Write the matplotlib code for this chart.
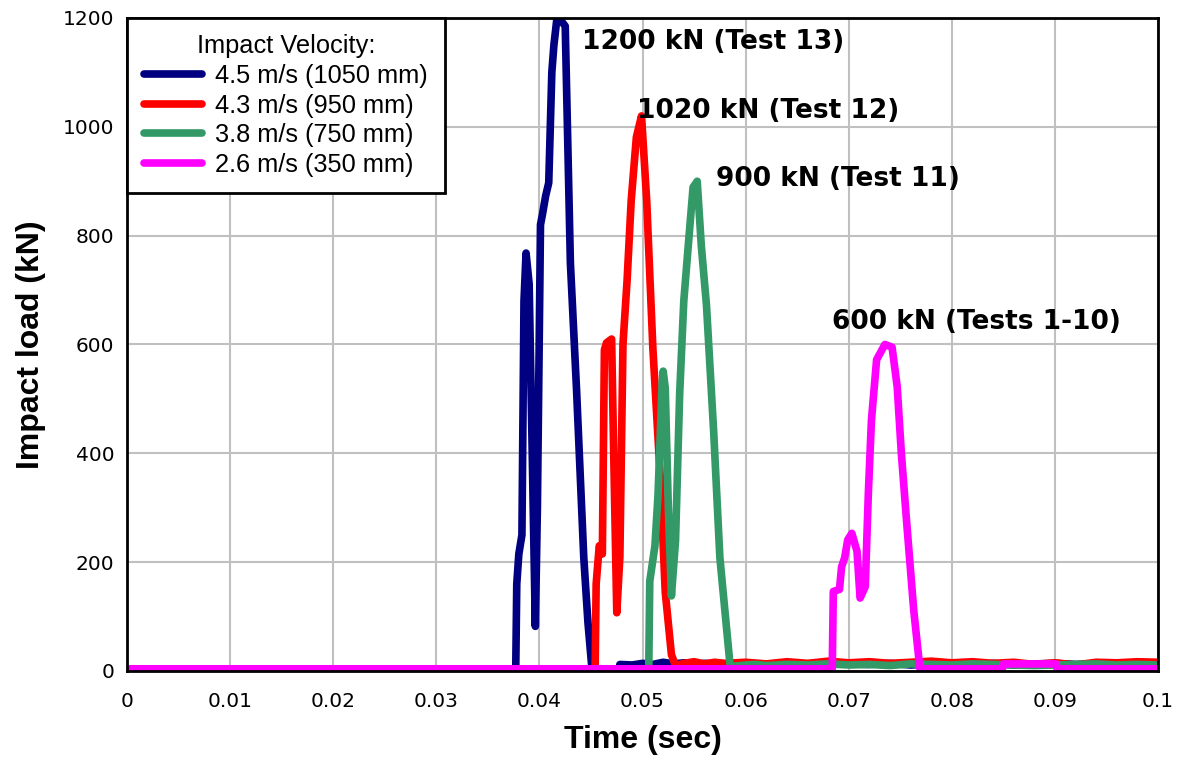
import matplotlib

matplotlib.use("Agg")
import matplotlib.pyplot as plt

# ── load histories (time in s, load in kN) ────────────────────────────────────
blue_t = [0.0, 0.0377, 0.0378, 0.0380, 0.0383, 0.0385, 0.0387, 0.0390, 0.0393,
          0.0396, 0.0398, 0.0401, 0.0403, 0.0406, 0.0409, 0.0412, 0.0414,
          0.0417, 0.0421, 0.0425, 0.0430, 0.0436, 0.0443, 0.0447, 0.0451,
          0.0477, 0.0478, 0.049, 0.050, 0.051, 0.052, 0.053, 0.054, 0.055,
          0.056, 0.058, 0.060, 0.062, 0.064, 0.066, 0.068, 0.070, 0.072,
          0.074, 0.076, 0.078, 0.080, 0.082, 0.084, 0.086, 0.088, 0.090,
          0.092, 0.094, 0.096, 0.098, 0.100]
blue_kn = [3, 3, 160, 215, 250, 680, 768, 711, 400,
           82, 300, 820, 840, 873, 897, 1100, 1150,
           1200, 1195, 1185, 750, 516, 208, 90, 2,
           2, 12, 11, 14, 12, 16, 13, 15, 12,
           14, 12, 15, 11, 14, 12, 15, 13, 12,
           14, 11, 13, 15, 12, 14, 11, 13, 14,
           12, 13, 11, 14, 12]

red_t = [0.0, 0.0454, 0.0455, 0.0458, 0.0461, 0.0463, 0.0465, 0.0470, 0.0472,
         0.0475, 0.0478, 0.0481, 0.0485, 0.0489, 0.0494, 0.0499, 0.0504,
         0.0510, 0.0517, 0.0522, 0.0528, 0.0532, 0.054, 0.055, 0.056, 0.057,
         0.058, 0.060, 0.062, 0.064, 0.066, 0.068, 0.070, 0.072, 0.074, 0.076,
         0.078, 0.080, 0.082, 0.084, 0.086, 0.088, 0.090, 0.092, 0.094, 0.096,
         0.098, 0.100]
red_kn = [3, 3, 160, 230, 215, 590, 603, 610, 400,
          107, 210, 600, 718, 865, 981, 1020, 865,
          593, 362, 145, 30, 10, 14, 17, 13, 16,
          14, 16, 13, 17, 14, 18, 15, 17, 14, 16,
          18, 15, 17, 14, 16, 12, 15, 11, 16, 15,
          17, 16]

green_t = [0.0, 0.0506, 0.0507, 0.0512, 0.0515, 0.0519, 0.0520, 0.0522,
           0.0525, 0.0528, 0.0532, 0.0536, 0.0540, 0.0544, 0.0549, 0.0553,
           0.0557, 0.0562, 0.0569, 0.0575, 0.0582, 0.0585, 0.060, 0.061,
           0.062, 0.064, 0.066, 0.068, 0.070, 0.072, 0.074, 0.076, 0.078,
           0.080, 0.082, 0.084, 0.086, 0.088, 0.090, 0.092, 0.094, 0.096,
           0.098, 0.100]
green_kn = [3, 3, 165, 230, 323, 530, 551, 520,
            300, 138, 240, 510, 680, 774, 889, 900,
            781, 672, 439, 208, 68, 8, 11, 12,
            10, 12, 11, 13, 11, 12, 10, 13, 12,
            11, 13, 12, 11, 10, 11, 12, 13, 11,
            12, 11]

magenta_t = [0.0, 0.0684, 0.0685, 0.0688, 0.0691, 0.0693, 0.0696, 0.0699,
             0.0703, 0.0708, 0.0711, 0.0716, 0.0719, 0.0722, 0.0727, 0.0735,
             0.0742, 0.0747, 0.0751, 0.0756, 0.0763, 0.0769, 0.0849, 0.0850,
             0.0870, 0.0901, 0.0902, 0.100]
magenta_kn = [4, 4, 146, 148, 150, 191, 208, 241,
              253, 220, 134, 155, 327, 461, 572, 600,
              595, 522, 400, 277, 112, 4, 4, 13,
              13, 13, 4, 4]

series = [
    (blue_t, blue_kn, "#000080", "4.5 m/s (1050 mm)"),
    (red_t, red_kn, "#ff0000", "4.3 m/s (950 mm)"),
    (green_t, green_kn, "#339966", "3.8 m/s (750 mm)"),
    (magenta_t, magenta_kn, "#ff00ff", "2.6 m/s (350 mm)"),
]

peak_labels = ["1200 kN (Test 13)", "1020 kN (Test 12)",
               "900 kN (Test 11)", "600 kN (Tests 1-10)"]
peak_label_pos = [(0.04413, 1156), (0.04947, 1029), (0.05713, 904), (0.06838, 641)]

x_ticks = [0, 0.01, 0.02, 0.03, 0.04, 0.05, 0.06, 0.07, 0.08, 0.09, 0.1]
x_tick_labels = ["0", "0.01", "0.02", "0.03", "0.04", "0.05",
                 "0.06", "0.07", "0.08", "0.09", "0.1"]
y_ticks = [0, 200, 400, 600, 800, 1000, 1200]

fig = plt.figure(figsize=(11.84, 7.58), dpi=100)
fig.patch.set_facecolor("white")
ax = fig.add_axes([0.1073, 0.1148, 0.8708, 0.8615])

for t, kn, color, label in series:
    ax.plot(t, kn, color=color, lw=5.5, label=label,
            solid_joinstyle="round", solid_capstyle="round")

ax.set_xlim(0, 0.1)
ax.set_ylim(0, 1200)
ax.set_xticks(x_ticks)
ax.set_xticklabels(x_tick_labels)
ax.set_yticks(y_ticks)
ax.tick_params(length=0, labelsize=14.5)
ax.tick_params(axis="x", pad=15)
ax.tick_params(axis="y", pad=9)
for lbl in ax.get_xticklabels() + ax.get_yticklabels():
    lbl.set_family("DejaVu Sans")

ax.grid(True, color="#c0c0c0", lw=1.5)
ax.set_axisbelow(True)
for sp in ax.spines.values():
    sp.set_linewidth(2.0)
    sp.set_color("black")
    sp.set_zorder(5)

ax.set_xlabel("Time (sec)", fontsize=23, fontweight="bold",
              family="Liberation Sans", labelpad=10)
ax.set_ylabel("Impact load (kN)", fontsize=23, fontweight="bold",
              family="Liberation Sans", labelpad=12)

for text, (tx, ty) in zip(peak_labels, peak_label_pos):
    ax.text(tx, ty, text, fontsize=19, fontweight="bold",
            family="DejaVu Sans", ha="left", va="center")

leg = ax.legend(loc="upper left", bbox_to_anchor=(0, 1), borderaxespad=0,
                title="Impact Velocity:", fancybox=False, framealpha=1,
                edgecolor="black", handlelength=2.28, handletextpad=0.55,
                labelspacing=0.22, borderpad=0.65,
                prop={"family": "Liberation Sans", "size": 18.3})
leg.get_title().set_fontfamily("Liberation Sans")
leg.get_title().set_fontsize(18.3)
leg.get_frame().set_linewidth(2.0)
leg.set_zorder(6)
for h in leg.get_lines():
    h.set_linewidth(5.5)

fig.savefig("out.png", dpi=100)
